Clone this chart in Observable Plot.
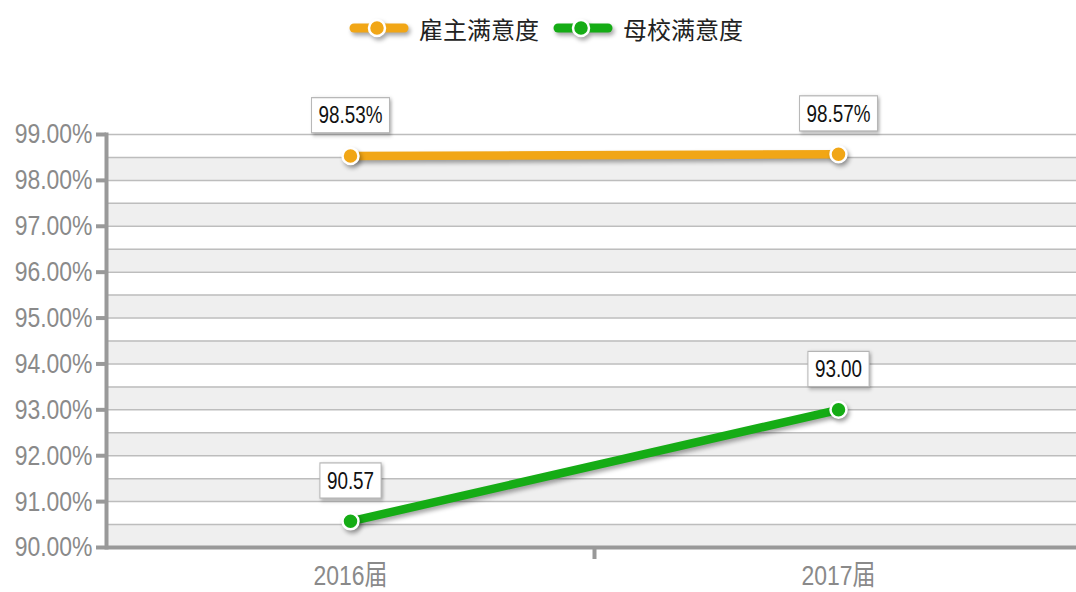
<!DOCTYPE html>
<html>
<head>
<meta charset="utf-8">
<script src="https://cdn.jsdelivr.net/npm/d3@7"></script>
<script src="https://cdn.jsdelivr.net/npm/@observablehq/plot@0.6"></script>
<style>
  html, body { margin: 0; padding: 0; background: #fff; width: 1076px; height: 592px; overflow: hidden; }
  #legend { height: 62px; padding-bottom: 6px; display: flex; justify-content: center; align-items: center; gap: 14px; padding-left: 16px; box-sizing: border-box;
    font-family: "Noto Sans CJK SC", sans-serif; font-size: 24px; color: #222; }
  .item { display: flex; align-items: center; gap: 10px; }
  .shadow { filter: drop-shadow(2px 3px 2px rgba(0,0,0,0.35)); }
</style>
</head>
<body>
<div id="legend"></div>
<div id="chart"></div>
<script>
// ---- data ----
const years = ["2016届", "2017届"];
const seriesNames = ["雇主满意度", "母校满意度"];
const employerValues = [98.53, 98.57];
const almaValues = [90.57, 93.00];
const employerLabels = ["98.53%", "98.57%"];
const almaLabels = ["90.57", "93.00"];
const yTicks = [90, 91, 92, 93, 94, 95, 96, 97, 98, 99];
const colors = ["#f1a616", "#15ac15"];

// ---- derived tables ----
const rows = [];
years.forEach((y, i) => {
  rows.push({year: y, series: seriesNames[0], value: employerValues[i], label: employerLabels[i]});
  rows.push({year: y, series: seriesNames[1], value: almaValues[i], label: almaLabels[i]});
});
const halfLines = [];
yTicks.forEach(t => { halfLines.push(t); if (t < yTicks[yTicks.length - 1]) halfLines.push(t + 0.5); });
const bands = yTicks.slice(0, -1).map(t => ({y1: t, y2: t + 0.5}));

// ---- legend ----
const legend = document.getElementById("legend");
seriesNames.forEach((name, i) => {
  const item = document.createElement("div");
  item.className = "item";
  item.innerHTML = `<svg width="60" height="26" class="shadow"><line x1="5" x2="55" y1="13" y2="13" stroke="${colors[i]}" stroke-width="9" stroke-linecap="round"/><circle cx="28" cy="13" r="8" fill="${colors[i]}" stroke="#fff" stroke-width="2.5"/></svg><span>${name}</span>`;
  legend.appendChild(item);
});

// ---- chart ----
const W = 1076, H = 530, ML = 106;
const xRange = [ML, 1082];
const bandwidth = (xRange[1] - xRange[0]) / years.length;
const tickFont = `"Liberation Sans", Arial, "Noto Sans CJK SC", sans-serif`;
const SQ = 0.82;

const plot = Plot.plot({
  width: W,
  height: H,
  marginLeft: ML,
  marginRight: 0,
  marginTop: 72,
  marginBottom: 45,
  style: {fontFamily: tickFont, background: "transparent", overflow: "visible"},
  x: {type: "band", domain: years, padding: 0, range: xRange},
  y: {domain: [90, 99]},
  color: {domain: seriesNames, range: colors},
  marks: [
    Plot.rect(bands, {y1: "y1", y2: "y2", fill: "#efefef"}),
    Plot.ruleY(halfLines, {stroke: "#bdbdbd", strokeWidth: 1.5}),
    Plot.axisY({ticks: yTicks, tickFormat: d => d.toFixed(2) + "%", tickSize: 10, tickPadding: 4,
      stroke: "#999", strokeWidth: 4, fill: "#8a8a8a", fontSize: 28, fontFamily: tickFont, label: null}),
    Plot.frame({anchor: "left", stroke: "#999", strokeWidth: 4}),
    Plot.ruleY([90], {stroke: "#999", strokeWidth: 4}),
    Plot.axisX({tickSize: 0, tickPadding: 18, fill: "#8a8a8a", fontSize: 28, fontFamily: tickFont, label: null}),
    Plot.axisX({ticks: years.slice(1), tickSize: 12, tickFormat: () => "", stroke: "#999", strokeWidth: 4, dx: -bandwidth / 2, label: null}),
    Plot.line(rows, {x: "year", y: "value", z: "series", stroke: "series", strokeWidth: 8.5}),
    Plot.dot(rows, {x: "year", y: "value", fill: "series", r: 8, stroke: "#fff", strokeWidth: 2.5}),
    Plot.text(rows, {x: "year", y: "value", text: "label", dy: -40, fontSize: 23, fill: "#111", fontFamily: tickFont})
  ]
});
document.getElementById("chart").appendChild(plot);

// shadows on lines and dots
plot.querySelectorAll('g[aria-label="line"], g[aria-label="dot"]').forEach(g => {
  g.style.filter = "drop-shadow(2px 3px 2px rgba(0,0,0,0.35))";
});

// horizontally condensed text (narrow face look)
function squeeze(text, k) {
  const x = +(text.getAttribute("x") || 0);
  const tr = text.getAttribute("transform") || "";
  text.setAttribute("x", 0);
  text.setAttribute("transform", `${tr} translate(${x},0) scale(${k},1)`);
}
plot.querySelectorAll('g[aria-label="y-axis tick label"] text, g[aria-label="x-axis tick label"] text').forEach(t => squeeze(t, SQ));

// boxes behind value labels
const labelGroup = plot.querySelector('g[aria-label="text"]');
if (labelGroup) {
  const ns = "http://www.w3.org/2000/svg";
  labelGroup.querySelectorAll("text").forEach(t => {
    squeeze(t, SQ);
    const b = t.getBBox();
    const r = document.createElementNS(ns, "rect");
    const padX = 7 / SQ, padY = 5;
    r.setAttribute("x", b.x - padX);
    r.setAttribute("y", b.y - padY);
    r.setAttribute("width", b.width + 2 * padX);
    r.setAttribute("height", b.height + 2 * padY);
    r.setAttribute("fill", "#fff");
    r.setAttribute("stroke", "#b5b5b5");
    r.setAttribute("stroke-width", "1.2");
    r.style.filter = "drop-shadow(2px 2px 2px rgba(0,0,0,0.3))";
    const tr = t.getAttribute("transform");
    if (tr) r.setAttribute("transform", tr);
    labelGroup.insertBefore(r, t);
  });
}
</script>
</body>
</html>
